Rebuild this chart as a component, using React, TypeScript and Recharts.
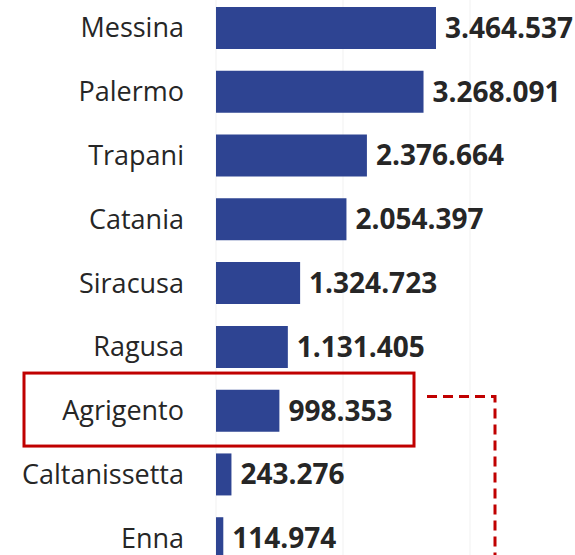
import { BarChart, Bar, XAxis, YAxis, CartesianGrid, LabelList } from "recharts";

const provinces = ["Messina", "Palermo", "Trapani", "Catania", "Siracusa", "Ragusa", "Agrigento", "Caltanissetta", "Enna"];
const values = [3464537, 3268091, 2376664, 2054397, 1324723, 1131405, 998353, 243276, 114974];
const xTicks = [0, 2000000, 4000000];
const highlighted = "Agrigento";

const data = provinces.map((name, i) => ({ name, value: values[i] }));

const W = 575;
const H = 574;
const TOP = -4;
const AXIS_W = 216;
const RIGHT = 105;

// Italian thousands separator
const fmt = (v: number) => String(v).replace(/\B(?=(\d{3})+(?!\d))/g, ".");

export default function App() {
    const band = H / provinces.length;
    const rowY = TOP + band * (provinces.indexOf(highlighted) + 0.5);

    return (
        <div style={{ position: "absolute", left: 0, top: 0, width: 575, height: 555, overflow: "hidden", background: "#fff" }}>
            <div style={{ position: "absolute", left: 0, top: TOP }}>
                <BarChart
                    width={W}
                    height={H}
                    data={data}
                    layout="vertical"
                    margin={{ top: 0, right: RIGHT, bottom: 0, left: 0 }}
                    barSize={42}
                >
                    <CartesianGrid horizontal={false} stroke="#f1f1f1" />
                    <XAxis type="number" hide domain={[0, 4000000]} ticks={xTicks} />
                    <YAxis
                        type="category"
                        dataKey="name"
                        width={AXIS_W}
                        axisLine={false}
                        tickLine={false}
                        tickSize={0}
                        tickMargin={32}
                        tick={{ fill: "#262626", fontSize: 27, fontFamily: "'Open Sans', sans-serif" }}
                        interval={0}
                    />
                    <Bar dataKey="value" fill="#2E4492" isAnimationActive={false}>
                        <LabelList
                            dataKey="value"
                            position="right"
                            offset={9}
                            formatter={(v: any) => fmt(Number(v))}
                            style={{ fill: "#262626", fontSize: 28, fontWeight: 700, fontFamily: "'Open Sans', sans-serif" }}
                        />
                    </Bar>
                </BarChart>
            </div>
            <svg width={575} height={555} style={{ position: "absolute", left: 0, top: 0, pointerEvents: "none" }}>
                <rect x={24} y={rowY - 37.5} width={390} height={73} fill="none" stroke="#C00000" strokeWidth={3} />
                <path d={`M427 ${rowY - 14} H495 V555`} fill="none" stroke="#C00000" strokeWidth={3} strokeDasharray="10 6" />
            </svg>
        </div>
    );
}
